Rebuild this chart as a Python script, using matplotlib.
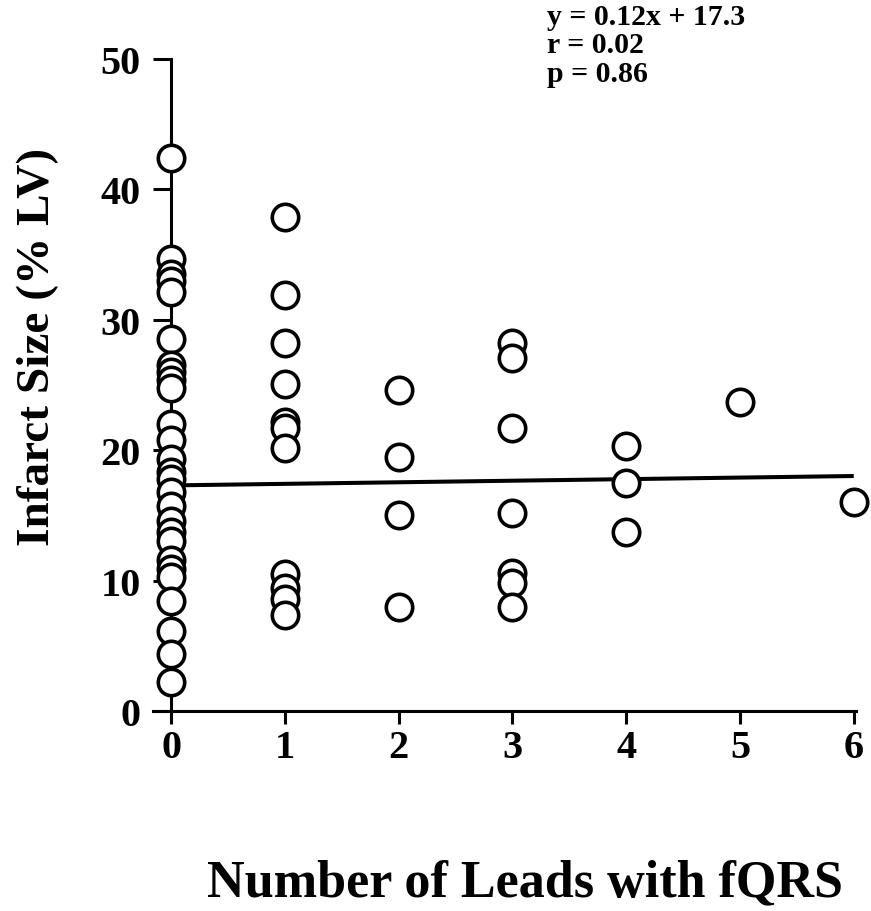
import matplotlib
matplotlib.use("Agg")
import matplotlib.pyplot as plt
import numpy as np

# ---- data ----
leads_0 = [42.4, 34.7, 33.5, 33.0, 32.1, 28.5, 26.5, 26.0, 25.4, 24.8, 22.0, 20.8,
           19.3, 18.3, 17.8, 16.8, 15.7, 14.6, 13.7, 13.0, 11.6, 10.9, 10.3, 8.4,
           6.1, 4.4, 2.2]
leads_1 = [37.9, 31.9, 28.2, 25.1, 22.2, 21.7, 20.2, 10.5, 9.4, 8.6, 7.4]
leads_2 = [24.6, 19.5, 15.0, 8.0]
leads_3 = [28.2, 27.1, 21.7, 15.2, 10.6, 9.8, 8.0]
leads_4 = [20.3, 17.5, 13.7]
leads_5 = [23.7]
leads_6 = [16.0]
groups = [leads_0, leads_1, leads_2, leads_3, leads_4, leads_5, leads_6]

slope = 0.12
intercept = 17.3
eq_lines = ["y = 0.12x + 17.3", "r = 0.02", "p = 0.86"]
xticks = [0, 1, 2, 3, 4, 5, 6]
yticks = [0, 10, 20, 30, 40, 50]
xlabel = "Number of Leads with fQRS"
ylabel = "Infarct Size (% LV)"

plt.rcParams['font.family'] = ['Liberation Serif', 'DejaVu Serif']
plt.rcParams['font.weight'] = 'bold'

W, H = 871, 912
fig = plt.figure(figsize=(W / 100, H / 100), dpi=100)
ax = fig.add_axes([153 / W, 1 - 712 / H, (856 - 153) / W, (712 - 60) / H])

xs = np.concatenate([[i] * len(g) for i, g in enumerate(groups)])
ys = np.concatenate(groups)

# regression line
lx = np.array([0, 6])
ax.plot(lx, slope * lx + intercept, color='black', lw=2.9, zorder=2, solid_capstyle='butt')

ax.scatter(xs, ys, s=19 ** 2, facecolor='white', edgecolor='black',
           linewidths=2.6, zorder=3, clip_on=False)

ax.set_xlim(-0.16, 6.02)
ax.set_ylim(0, 50)
for s in ['top', 'right']:
    ax.spines[s].set_visible(False)
ax.spines['left'].set_position(('data', 0))
ax.spines['left'].set_linewidth(2.2)
ax.spines['bottom'].set_linewidth(2.2)
ax.spines['left'].set_zorder(1)

ax.set_xticks(xticks)
ax.set_yticks(yticks)
ax.set_xticklabels([str(t) for t in xticks])
ax.set_yticklabels([str(t) for t in yticks])
ax.tick_params(axis='x', direction='out', length=9, width=2.2,
               labelsize=29, pad=4)
ax.tick_params(axis='y', direction='out', length=13, width=2.2,
               labelsize=29, pad=9)
for lab in ax.get_xticklabels() + ax.get_yticklabels():
    lab.set_fontweight('bold')

fig.text(38 / W, 1 - 347 / H, ylabel, rotation=90, ha='center', va='center',
         fontsize=34, fontweight='bold')
fig.text(525 / W, 1 - 883 / H, xlabel, ha='center', va='center',
         fontsize=37.5, fontweight='bold')
fig.text(547 / W, 1 - 4 / H, "\n".join(eq_lines), ha='left', va='top',
         fontsize=21.5, fontweight='bold', linespacing=1.07)

fig.savefig("out.png", dpi=100)
